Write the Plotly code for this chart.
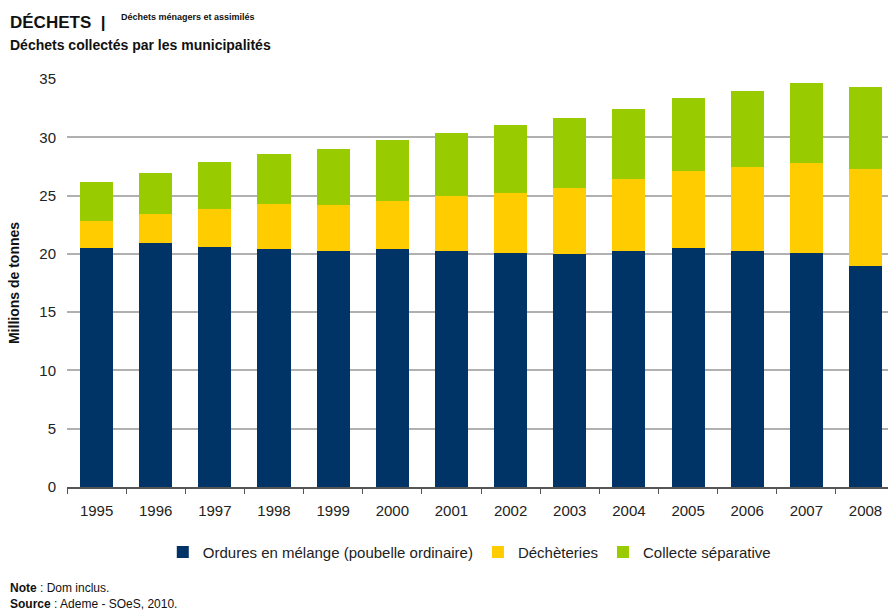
import plotly.graph_objects as go

years = ["1995", "1996", "1997", "1998", "1999", "2000", "2001",
         "2002", "2003", "2004", "2005", "2006", "2007", "2008"]
ordures = [20.5, 20.9, 20.6, 20.4, 20.25, 20.4, 20.25, 20.05, 20.0, 20.25, 20.5, 20.25, 20.05, 18.95]
decheteries = [2.3, 2.5, 3.25, 3.85, 3.95, 4.1, 4.7, 5.15, 5.65, 6.15, 6.6, 7.2, 7.75, 8.3]
collecte = [3.35, 3.5, 4.05, 4.35, 4.8, 5.25, 5.4, 5.85, 6.0, 6.0, 6.25, 6.5, 6.85, 7.05]

series_names = ["Ordures en mélange (poubelle ordinaire)", "Déchèteries", "Collecte séparative"]
colors = ["#003366", "#FFCC00", "#99CC00"]

fig = go.Figure()
for name, vals, col in zip(series_names, [ordures, decheteries, collecte], colors):
    fig.add_trace(go.Bar(x=years, y=vals, name=name, marker=dict(color=col, line=dict(width=0))))

font_family = "Liberation Sans, Arial, sans-serif"

W, H = 888, 610
ML, MR, MT, MB = 67, 0, 79, 123

fig.update_layout(
    barmode="stack",
    bargap=0.44,
    width=W, height=H,
    margin=dict(l=ML, r=MR, t=MT, b=MB),
    paper_bgcolor="white", plot_bgcolor="white",
    font=dict(family=font_family, size=15, color="#222222"),
    showlegend=True,
    legend=dict(orientation="h", x=0.49, xanchor="center", y=-0.16, yanchor="middle",
                font=dict(size=15, color="#222222"), traceorder="normal",
                itemwidth=30),
    xaxis=dict(type="category", range=[-0.5, 13.38], showgrid=False,
               showline=True, linecolor="#555555", linewidth=1.5,
               ticks="outside", tickson="boundaries", ticklen=5, tickcolor="#555555",
               ticklabelstandoff=9,
               tickfont=dict(size=15, color="#222222")),
    yaxis=dict(range=[0, 35], dtick=5, showgrid=True, gridcolor="#b0b0b0", gridwidth=1.5,
               zeroline=False, showline=False, ticks="", ticklabelstandoff=10,
               tickfont=dict(size=15, color="#222222"),
               title=dict(text="<b>Millions de tonnes</b>", font=dict(size=14, color="#111111"), standoff=16)),
)

texts = [
    ("<b>DÉCHETS  |</b>", 17, 8, 22),
    ("<b>Déchets ménagers et assimilés</b>", 9, 119, 17),
    ("<b>Déchets collectés par les municipalités</b>", 14, 8, 45),
    ("<b>Note</b> : Dom inclus.", 12, 8, 588),
    ("<b>Source</b> : Ademe - SOeS, 2010.", 12, 8, 604),
]

plot_h = H - MT - MB
plot_w = W - ML - MR

for txt, size, xp, yp in texts:
    fig.add_annotation(text=txt, xref="paper", yref="paper",
                       x=(xp - ML) / plot_w, y=(H - MB - yp) / plot_h,
                       xanchor="left", yanchor="middle", showarrow=False,
                       font=dict(size=size, color="#111111"))

fig.write_html(
    "out.html",
    config={"displayModeBar": False},
    post_script=(
        "document.documentElement.style.margin='0';"
        "document.documentElement.style.overflow='hidden';"
        "document.body.style.margin='0';"
        "document.body.style.overflow='hidden';"
    ),
)
